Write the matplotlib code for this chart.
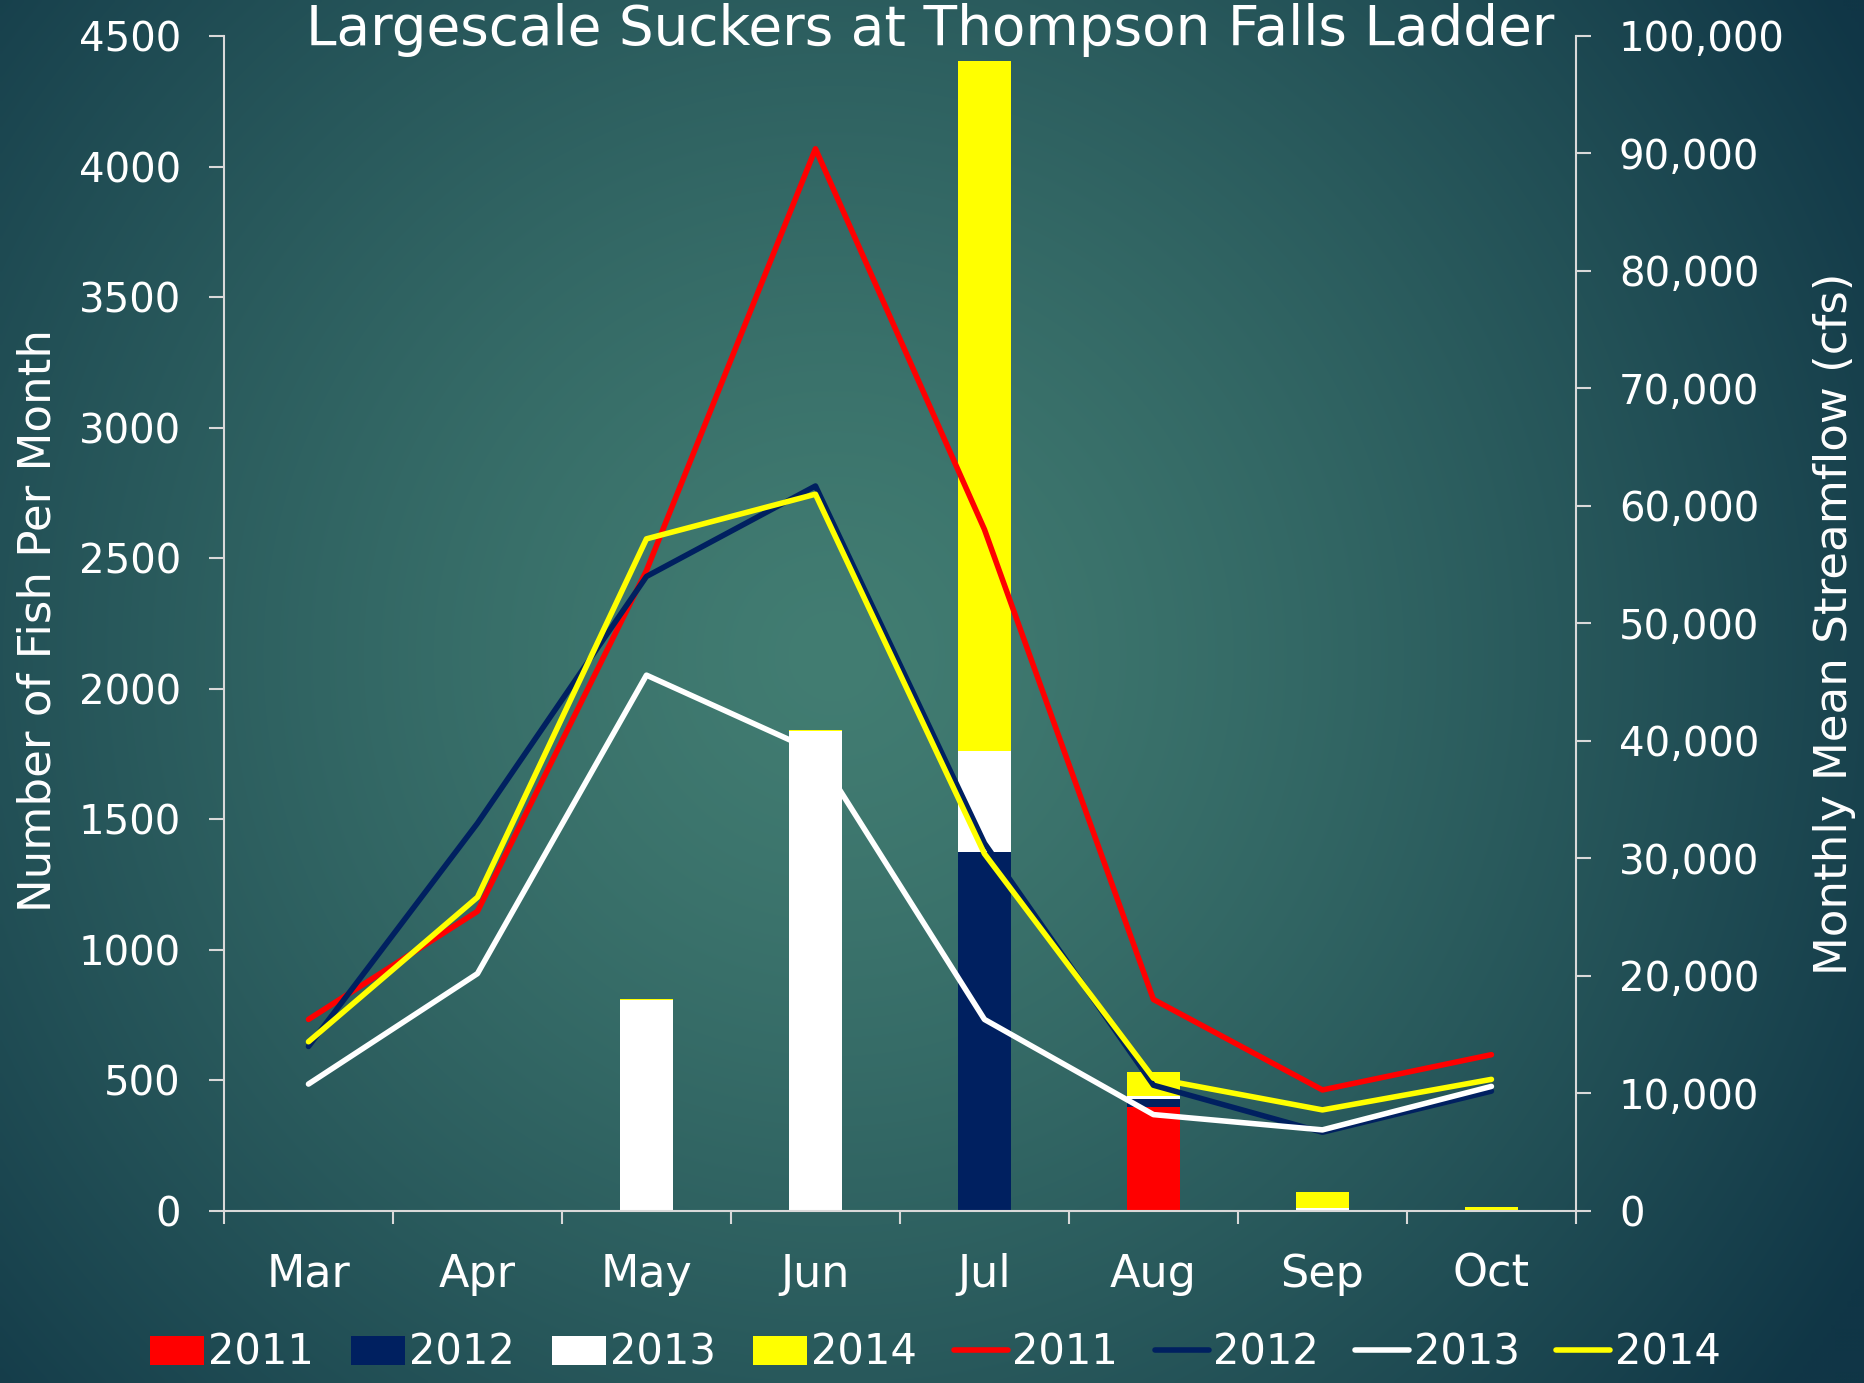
import numpy as np
import matplotlib
matplotlib.use("Agg")
import matplotlib.pyplot as plt
from matplotlib.ticker import FuncFormatter, FixedLocator

months = ["Mar", "Apr", "May", "Jun", "Jul", "Aug", "Sep", "Oct"]
years = ["2011", "2012", "2013", "2014"]

# fish counted per month (stacked bars, left axis)
fish_2011 = [0, 0, 3, 0, 0, 400, 4, 0]
fish_2012 = [0, 0, 0, 0, 1376, 30, 0, 0]
fish_2013 = [0, 0, 805, 1838, 387, 9, 9, 0]
fish_2014 = [0, 0, 3, 3, 2642, 95, 58, 15]

# monthly mean streamflow in cfs (lines, right axis)
flow_2011 = [16300, 25500, 54500, 90400, 58000, 18000, 10300, 13300]
flow_2012 = [14000, 33000, 54000, 61700, 31300, 10700, 6700, 10200]
flow_2013 = [10800, 20200, 45600, 39100, 16300, 8200, 6900, 10600]
flow_2014 = [14400, 26700, 57200, 61000, 30400, 11300, 8600, 11200]

colors = ["#ff0000", "#002060", "#ffffff", "#ffff00"]
txt = "white"
spine_c = "#d9d9d9"

fig = plt.figure(figsize=(18.65, 13.83), dpi=100)

# radial teal background
bg = fig.add_axes([0, 0, 1, 1], zorder=-10)
h, w = 346, 466
yy, xx = np.mgrid[0:h, 0:w]
cx, cy = 0.446 * w, 0.473 * h
r = np.hypot((xx - cx) * 1865 / w, (yy - cy) * 1383 / h) / 1200.0
t = np.clip(r, 0, 1) ** 1.3
inner = np.array([66, 125, 114]) / 255.0
outer = np.array([16, 54, 70]) / 255.0
img = inner[None, None, :] + (outer - inner)[None, None, :] * t[..., None]
bg.imshow(img, aspect="auto", interpolation="bilinear", extent=[0, 1, 0, 1])
bg.axis("off")

ax = fig.add_axes([0.1201, 0.1244, 0.7249, 0.8496])
ax.patch.set_visible(False)
x = np.arange(len(months))
bw = 0.31

bars = []
bottom = np.zeros(len(months))
for vals, c, yr in zip([fish_2011, fish_2012, fish_2013, fish_2014], colors, years):
    b = ax.bar(x, vals, bw, bottom=bottom, color=c, label=yr, zorder=2)
    bars.append(b)
    bottom += np.array(vals)

ax.set_xlim(-0.5, len(months) - 0.5)
ax.set_ylim(0, 4500)
ax.set_yticks(np.arange(0, 4501, 500))

ax2 = ax.twinx()
ax2.patch.set_visible(False)
lines = []
for vals, c, yr in zip([flow_2011, flow_2012, flow_2013, flow_2014], colors, years):
    ln, = ax2.plot(x, vals, color=c, lw=4, label=yr,
                   solid_capstyle="round", solid_joinstyle="round")
    lines.append(ln)
ax2.set_ylim(0, 100000)
ax2.set_yticks(np.arange(0, 100001, 10000))
ax2.yaxis.set_major_formatter(FuncFormatter(lambda v, p: f"{int(v):,}"))

# category boundaries get the tick marks, centres get the month names
for a in (ax, ax2):
    a.xaxis.set_major_locator(FixedLocator(np.arange(-0.5, len(months), 1.0)))
    a.xaxis.set_minor_locator(FixedLocator(x))
    a.set_xticklabels([""] * (len(months) + 1))
    a.set_xticklabels(months, minor=True)
    a.tick_params(axis="x", which="major", length=9, width=1.5, color=spine_c, direction="out")
    a.tick_params(axis="x", which="minor", length=0, pad=30, labelsize=32, labelcolor=txt)
    for s in a.spines.values():
        s.set_color(spine_c)
        s.set_linewidth(1.5)
    a.spines["top"].set_visible(False)

ax.spines["right"].set_visible(False)
ax2.spines["left"].set_visible(False)
ax2.spines["bottom"].set_visible(False)
ax2.tick_params(axis="x", which="both", bottom=False, labelbottom=False)

ax.tick_params(axis="y", length=11, width=1.5, color=spine_c, pad=20, labelsize=29, labelcolor=txt)
ax2.tick_params(axis="y", length=11, width=1.5, color=spine_c, pad=20, labelsize=29, labelcolor=txt)

fig.text(0.0204, 0.551, "Number of Fish Per Month", rotation=90, color=txt,
         fontsize=32.5, ha="center", va="center")
fig.text(0.9834, 0.549, "Monthly Mean Streamflow (cfs)", rotation=90, color=txt,
         fontsize=32.5, ha="center", va="center")
fig.text(0.499, 0.9675, "Largescale Suckers at Thompson Falls Ladder", color=txt,
         fontsize=39.5, ha="center", va="baseline")

handles = [b[0] for b in bars] + lines
labels = years + years
leg = fig.legend(handles, labels, loc="center", bbox_to_anchor=(0.5015, 0.0217), ncol=8,
                 frameon=False, fontsize=30, handlelength=1.3, handletextpad=0.1,
                 columnspacing=0.88, labelcolor=txt)

fig.savefig("out.png", dpi=100)
